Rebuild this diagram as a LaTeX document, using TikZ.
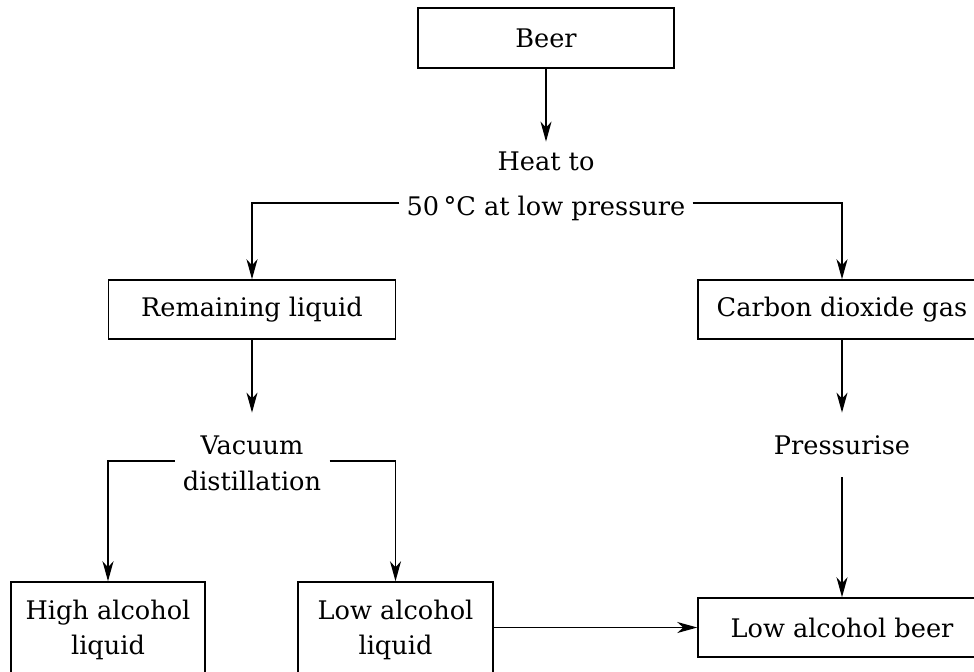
\documentclass[tikz,border=0pt]{standalone}
\usepackage{fontspec}
\setmainfont{DejaVu Serif}
\usetikzlibrary{arrows.meta}
\begin{document}
\begin{tikzpicture}[x=0.5pt,y=-0.5pt,
  every node/.style={font=\fontsize{12.8}{17.8}\selectfont},
  boxnode/.style={draw,line width=0.75pt,inner sep=0pt,align=center},
  txtnode/.style={inner sep=0pt,align=center},
  arr/.style={line width=0.75pt,-{Stealth[length=10pt,width=5.5pt,inset=3pt]}},
  ln/.style={line width=0.75pt}]
\useasboundingbox (0,0) rectangle (974,671);
% boxes
\node[boxnode,minimum width=128pt,minimum height=30pt] (beer) at (546,38) {Beer};
\node[txtnode,inner xsep=3.5pt,minimum height=44pt,font=\fontsize{12.8}{22.5}\selectfont] (heat) at (546,186) {Heat to\\50\,°C at low pressure};
\node[boxnode,minimum width=143.5pt,minimum height=29.5pt] (rem) at (252,309.5) {Remaining liquid};
\node[boxnode,minimum width=144pt,minimum height=29.5pt] (co2) at (842,309.5) {Carbon dioxide gas};
\node[txtnode,inner xsep=4pt,minimum height=50.5pt] (vac) at (252,463.5) {Vacuum\\distillation};
\node[txtnode,minimum height=32pt] (press) at (842,445) {Pressurise};
\node[boxnode,minimum width=97pt,minimum height=48pt] (high) at (108,630) {High alcohol\\liquid};
\node[boxnode,minimum width=97.5pt,minimum height=48pt] (low) at (395.5,630) {Low alcohol\\liquid};
\node[boxnode,minimum width=144pt,minimum height=29.5pt] (lab) at (842,627.5) {Low alcohol beer};
\coordinate (hy) at (0,203);
\coordinate (vy) at (0,461);
% connectors
\draw[arr] (beer.south) -- (heat.north);
\draw[arr] (heat.west |- hy) -| (rem.north);
\draw[arr] (heat.east |- hy) -| (co2.north);
\draw[arr] (rem.south) -- (vac.north);
\draw[arr] (vac.west |- vy) -| (high.north);
\draw[arr] (vac.east |- vy) -| (low.north);
\draw[arr] (co2.south) -- (press.north);
\draw[arr] (press.south) -- (lab.north);
\draw[arr] (low.east |- lab.west) -- (lab.west);
\end{tikzpicture}
\end{document}
